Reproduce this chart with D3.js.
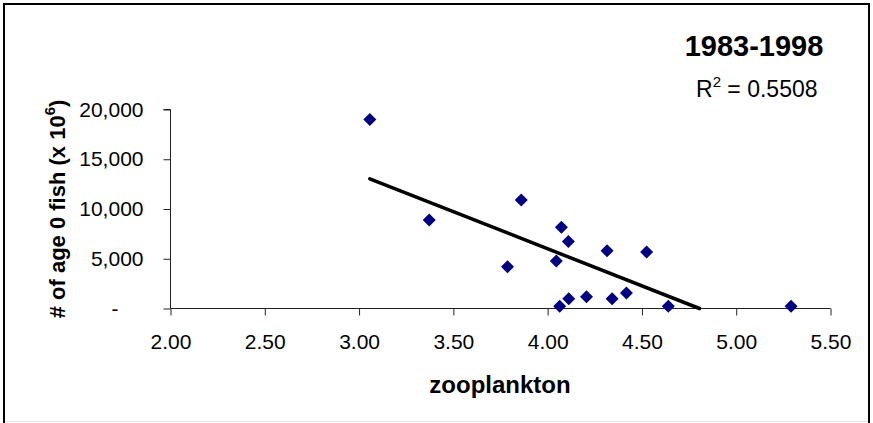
<!DOCTYPE html>
<html>
<head>
<meta charset="utf-8">
<script src="https://cdn.jsdelivr.net/npm/d3@7"></script>
<style>
  html, body { margin: 0; padding: 0; background: #fff; }
  svg { display: block; font-family: Arial, "Liberation Sans", sans-serif; }
</style>
</head>
<body>
<svg id="chart" width="873" height="423"></svg>
<script>
// zooplankton index vs # of age 0 fish (x 10^6), 1983-1998
const zooplankton = [3.057, 3.372, 3.787, 3.860, 4.046, 4.064, 4.073, 4.110, 4.112, 4.206, 4.315, 4.342, 4.418, 4.525, 4.640, 5.291];
const age0Fish = [19000, 8900, 4200, 10900, 4770, 230, 8170, 6730, 970, 1170, 5800, 970, 1570, 5670, 230, 230];

const xTicks = [2.0, 2.5, 3.0, 3.5, 4.0, 4.5, 5.0, 5.5];
const yTicks = [0, 5000, 10000, 15000, 20000];

const titleText = "1983-1998";
const r2Value = "0.5508";

function drawChart() {
    const svg = d3.select("#chart");

    // outer chart border (bottom edge cut off by the window)
    svg.append("rect")
        .attr("x", 4).attr("y", 4)
        .attr("width", 865).attr("height", 440)
        .attr("fill", "#fff")
        .attr("stroke", "#000")
        .attr("stroke-width", 2);
    svg.append("line")
        .attr("x1", 5).attr("x2", 868)
        .attr("y1", 421.5).attr("y2", 421.5)
        .attr("stroke", "#e4e4e4").attr("stroke-width", 1);

    const x = d3.scaleLinear().domain([2, 5.5]).range([170.5, 830.5]);
    const y = d3.scaleLinear().domain([0, 20000]).range([308.5, 109.5]);

    // y axis
    const yAxis = svg.append("g")
        .attr("transform", `translate(${x(2)},0)`)
        .call(d3.axisLeft(y)
            .tickValues(yTicks)
            .tickSize(7)
            .tickPadding(20)
            .tickFormat(d => d === 0 ? "-" : d3.format(",")(d)));
    yAxis.selectAll("text")
        .attr("font-size", 21)
        .attr("font-family", "Arial, 'Liberation Sans', sans-serif")
        .attr("fill", "#000")
        .filter(d => d === 0).attr("dx", -25);

    // x axis
    const xAxis = svg.append("g")
        .attr("transform", `translate(0,${y(0)})`)
        .call(d3.axisBottom(x)
            .tickValues(xTicks)
            .tickSize(7)
            .tickPadding(19)
            .tickFormat(d3.format(".2f")));
    xAxis.selectAll("text")
        .attr("font-size", 21)
        .attr("font-family", "Arial, 'Liberation Sans', sans-serif")
        .attr("fill", "#000");

    svg.selectAll(".domain, .tick line").attr("stroke", "#222").attr("stroke-width", 1);
    yAxis.select(".domain").attr("d", `M-7,${y(20000)}H0V${y(0)}`);
    xAxis.select(".domain").attr("d", `M${x(2)},0H${x(5.5)}`);

    // linear trend line (least squares), ends where it meets the x axis
    const mx = d3.mean(zooplankton), my = d3.mean(age0Fish);
    const sxy = d3.sum(zooplankton, (v, i) => (v - mx) * (age0Fish[i] - my));
    const sxx = d3.sum(zooplankton, v => (v - mx) * (v - mx));
    const slope = sxy / sxx, icpt = my - slope * mx;
    const x0 = d3.min(zooplankton);
    const x1 = Math.min(d3.max(zooplankton), -icpt / slope);

    svg.append("line")
        .attr("x1", x(x0)).attr("y1", y(slope * x0 + icpt))
        .attr("x2", x(x1)).attr("y2", y(slope * x1 + icpt))
        .attr("stroke", "#000")
        .attr("stroke-width", 3.5)
        .attr("stroke-linecap", "round");

    // points
    const diamond = "M0,-6.5L6.5,0L0,6.5L-6.5,0Z";
    svg.append("g")
        .selectAll("path")
        .data(zooplankton.map((v, i) => [v, age0Fish[i]]))
        .join("path")
        .attr("d", diamond)
        .attr("fill", "#000080")
        .attr("transform", d => `translate(${x(d[0])},${y(d[1])})`);

    // title and R^2
    svg.append("text")
        .attr("x", 754).attr("y", 56)
        .attr("text-anchor", "middle")
        .attr("font-size", 29)
        .attr("font-weight", "bold")
        .text(titleText);

    const r2 = svg.append("text")
        .attr("x", 696).attr("y", 97)
        .attr("font-size", 23);
    r2.append("tspan").text("R");
    r2.append("tspan").attr("font-size", 15).attr("dy", -10).text("2");
    r2.append("tspan").attr("dy", 10).text(" = " + r2Value);

    // axis titles
    svg.append("text")
        .attr("x", 500).attr("y", 393)
        .attr("text-anchor", "middle")
        .attr("font-size", 24)
        .attr("font-weight", "bold")
        .text("zooplankton");

    const yt = svg.append("text")
        .attr("transform", "translate(65,209) rotate(-90)")
        .attr("text-anchor", "middle")
        .attr("font-size", 22)
        .attr("font-weight", "bold");
    yt.append("tspan").text("# of age 0 fish (x 10");
    yt.append("tspan").attr("font-size", 15).attr("dy", -10).text("6");
    yt.append("tspan").attr("dy", 10).text(")");
}

drawChart();
</script>
</body>
</html>
